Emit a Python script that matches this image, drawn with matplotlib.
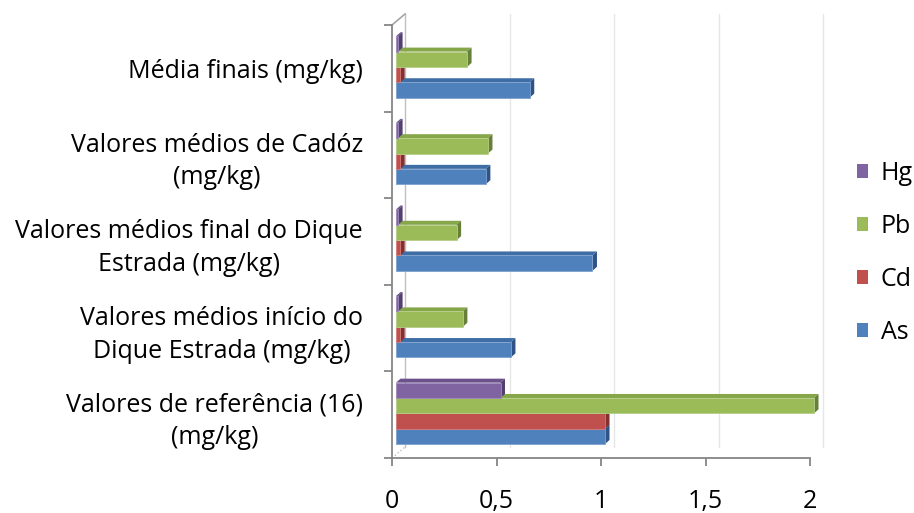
import matplotlib
matplotlib.use("Agg")
import matplotlib.pyplot as plt
from matplotlib.patches import Polygon, Rectangle
from matplotlib.transforms import ScaledTranslation

plt.rcParams['font.family'] = ['Open Sans', 'DejaVu Sans']

categories = [
    "Valores de referência (16)\n(mg/kg)",
    "Valores médios início do\nDique Estrada (mg/kg)",
    "Valores médios final do Dique\nEstrada (mg/kg)",
    "Valores médios de Cadóz\n(mg/kg)",
    "Média finais (mg/kg)",
]
series_names = ["As", "Cd", "Pb", "Hg"]
as_vals = [1.0, 0.55, 0.94, 0.43, 0.64]
cd_vals = [1.0, 0.02, 0.02, 0.02, 0.02]
pb_vals = [2.0, 0.32, 0.29, 0.44, 0.34]
hg_vals = [0.5, 0.01, 0.01, 0.01, 0.01]
xticks = [0, 0.5, 1, 1.5, 2]
xticklabels = ["0", "0,5", "1", "1,5", "2"]

series_vals = [as_vals, cd_vals, pb_vals, hg_vals]
front = ['#4F81BD', '#C0504D', '#9BBB59', '#8064A2']
edge = ['#7FA2CF', '#D27B79', '#B5CE86', '#9F88BC']
top = ['#3F6DA6', '#A64340', '#86A64A', '#6C528C']
side = ['#2F5287', '#83302E', '#66803A', '#54406E']

FS = 18
W, H = 914, 513
fig = plt.figure(figsize=(W / 100, H / 100), dpi=100)
x0_px, x1_px = 392, 810
y0_px, y1_px = 458, 25
ax = fig.add_axes([x0_px / W, (H - y0_px) / H, (x1_px - x0_px) / W, (y0_px - y1_px) / H])
ax.set_xlim(0, 2)
ax.set_ylim(0, 5)

pxx = (x1_px - x0_px) / 2.0   # px per x unit
pxy = (y0_px - y1_px) / 5.0   # px per y unit

# back wall (3D offset)
wall = ScaledTranslation(13 / 100, 11 / 100, fig.dpi_scale_trans)
gt = ax.transData + wall
for v in xticks:
    ax.plot([v, v], [0, 5], color='#BFBFBF' if v == 0 else '#E6E6E6', lw=1.0,
            transform=gt, clip_on=False, zorder=0.5)
ax.plot([0, 13 / pxx], [5, 5 + 11 / pxy], color='#A6A6A6', lw=1.2, clip_on=False, zorder=0.6)
ax.plot([0, 13 / pxx], [0, 11 / pxy], color='#BFBFBF', lw=1.0, ls=':', clip_on=False, zorder=0.6)

# bars with 3D effect
bar_h = 0.177
shift = ax.transData + ScaledTranslation(4 / 100, 0, fig.dpi_scale_trans)
dxd = 4.5 / pxx
dyd = 4.0 / pxy
for k, vals in enumerate(series_vals):
    ys = [i + 0.516 + (k - 1.5) * bar_h for i in range(len(categories))]
    z = 2 + k
    ax.barh(ys, vals, height=bar_h, color=front[k], edgecolor=edge[k], linewidth=0.6,
            zorder=z + 0.2, label=series_names[k], transform=shift, clip_on=False)
    for y, v in zip(ys, vals):
        yb, yt = y - bar_h / 2, y + bar_h / 2
        tp = Polygon([(0, yt), (v, yt), (v + dxd, yt + dyd), (dxd, yt + dyd)], closed=True,
                     facecolor=top[k], edgecolor='none', transform=shift, zorder=z, clip_on=False)
        sp = Polygon([(v, yb), (v, yt), (v + dxd, yt + dyd), (v + dxd, yb + dyd)], closed=True,
                     facecolor=side[k], edgecolor='none', transform=shift, zorder=z + 0.1, clip_on=False)
        ax.add_patch(tp)
        ax.add_patch(sp)

# axes styling
for s in ['top', 'right']:
    ax.spines[s].set_visible(False)
for s in ['left', 'bottom']:
    ax.spines[s].set_color('#868686')
    ax.spines[s].set_linewidth(1.3)
    ax.spines[s].set_zorder(1)

ax.set_xticks(xticks)
ax.set_xticklabels(xticklabels, fontsize=FS)
ax.tick_params(axis='x', direction='out', length=6, width=1.3, color='#868686', pad=16)
ax.set_yticks(range(6))
ax.set_yticklabels([])
ax.tick_params(axis='y', which='major', direction='out', length=6, width=1.3, color='#868686')
ax.set_yticks([i + 0.5 for i in range(len(categories))], minor=True)
ax.set_yticklabels(categories, minor=True, fontsize=FS)
ax.tick_params(axis='y', which='minor', length=0, pad=21)
for t in ax.get_yticklabels(minor=True):
    t.set_multialignment('center')
    t.set_linespacing(1.4)
ax.set_facecolor('none')

handles = [Rectangle((0, 0), 1, 1, facecolor=front[k], edgecolor='none') for k in range(4)][::-1]
labels = series_names[::-1]
fig.legend(handles, labels, loc='center left', bbox_to_anchor=(857 / W, (H - 253) / H),
           frameon=False, fontsize=FS, handlelength=0.45, handleheight=0.45,
           handletextpad=0.5, labelspacing=1.12, borderaxespad=0, borderpad=0)

fig.savefig('out.png', dpi=100)
